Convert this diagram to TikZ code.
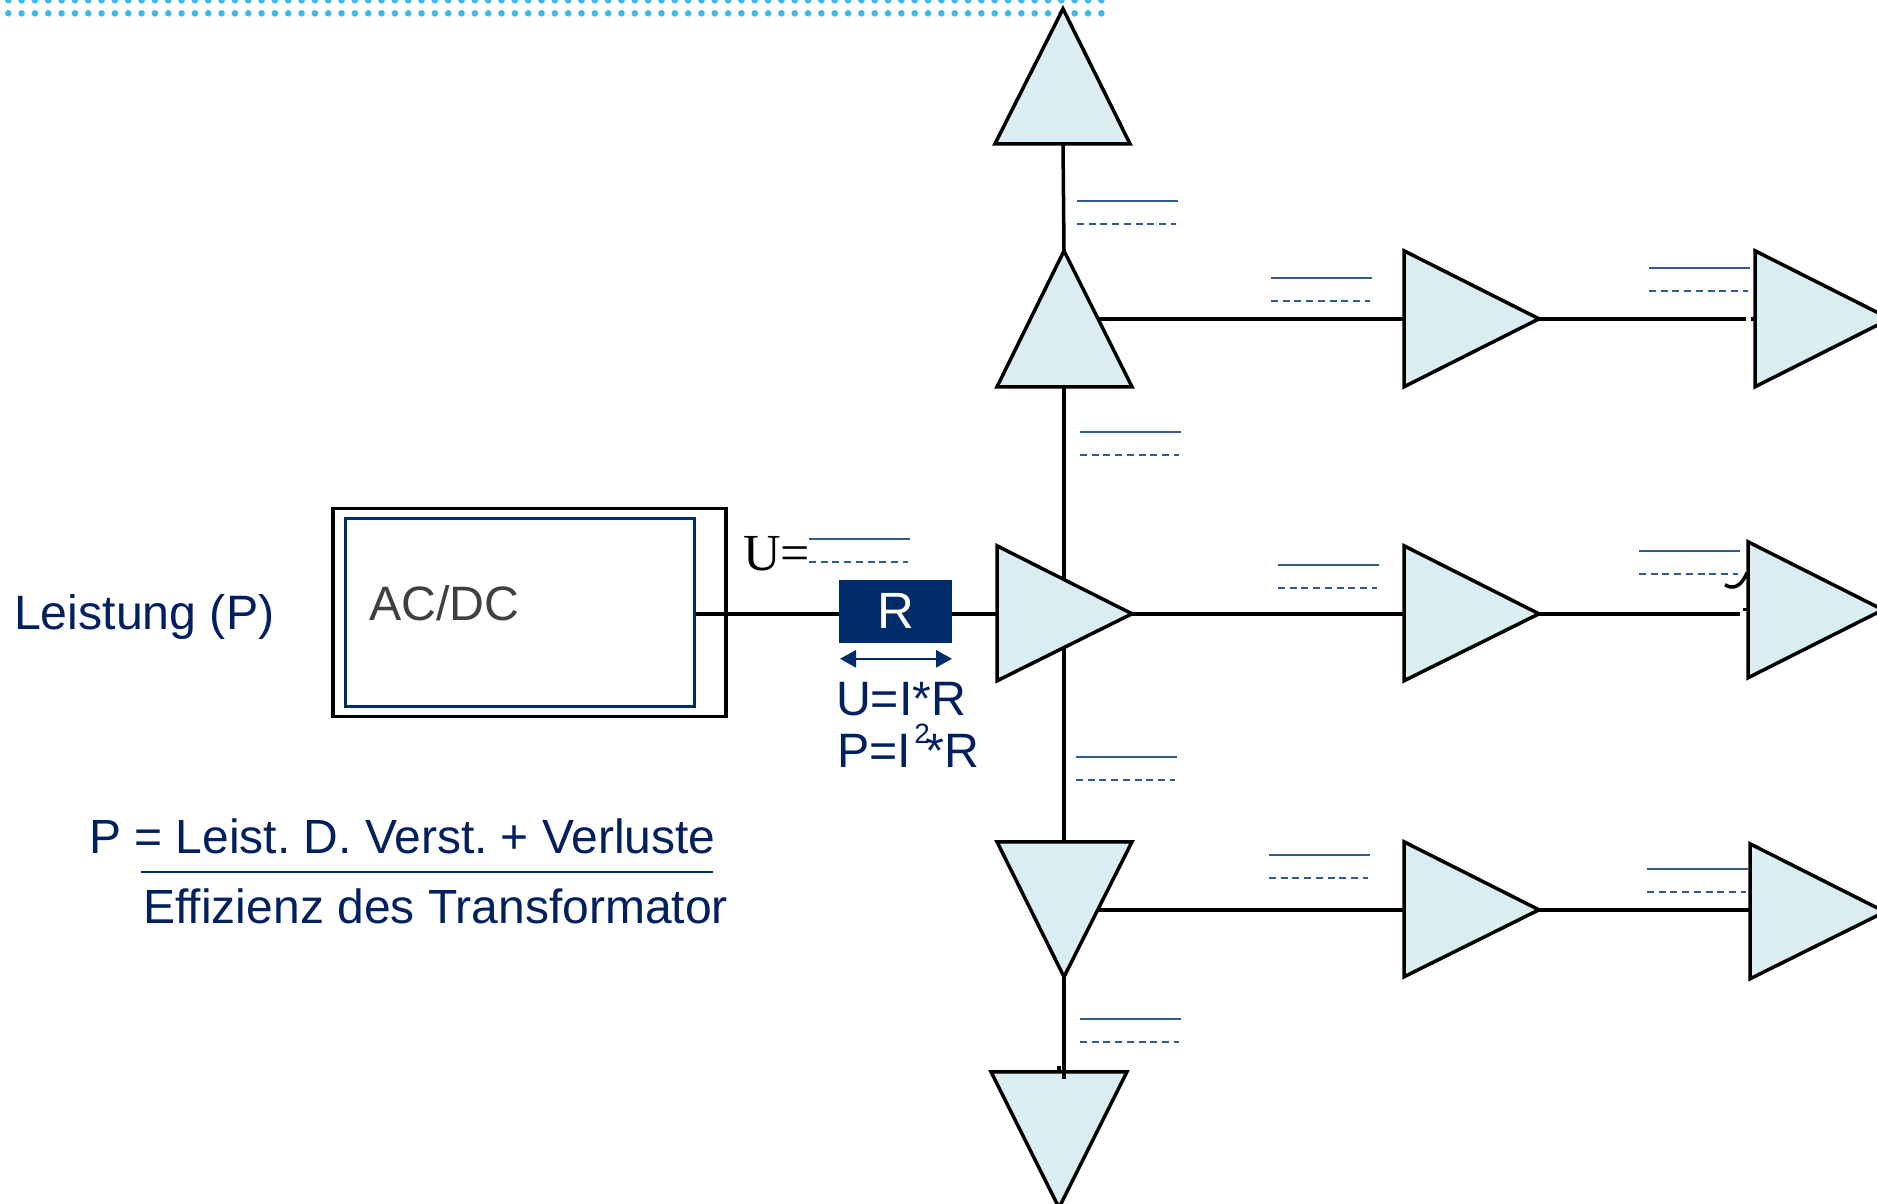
\documentclass[tikz,border=0pt]{standalone}
\usepackage{fontspec}
\setmainfont{Liberation Sans}
\newfontfamily\timesf{Liberation Serif}
\usetikzlibrary{arrows.meta,calc}
\definecolor{navy}{HTML}{002C6C}
\definecolor{txtnavy}{HTML}{00205F}
\definecolor{rulec}{HTML}{2F5A94}
\definecolor{trifill}{HTML}{DAEDF3}
\definecolor{dotc}{HTML}{3FB8EC}
\definecolor{graytxt}{HTML}{404040}
\newcommand{\fs}[1]{\fontsize{#1}{#1}\selectfont}
\newcommand{\amp}[4]{\draw[amptri] #2 coordinate (#1a) -- #3 coordinate (#1b) -- #4 coordinate (#1t) -- cycle;}
\newcommand{\rulepair}[3]{%
  \draw[rulesolid] (#1,#2) -- ++(100.5,0);
  \draw[ruledash] (#1,#3) -- ++(99,0);}
\tikzset{
  x=1pt,y=-1pt,
  amptri/.style={draw=black,fill=trifill,line width=3.5pt,line join=miter},
  wire/.style={draw=black,line width=3.5pt},
  rulesolid/.style={draw=rulec,line width=1.6pt},
  ruledash/.style={draw=rulec,line width=1.6pt,dash pattern=on 7pt off 4.7pt},
  bluetext/.style={text=txtnavy,font=\fs{48.3},anchor=base west,inner sep=0pt,outer sep=0pt},
  formula/.style={bluetext,font=\fs{48}},
  dotrow/.style={draw=dotc,line width=6.6pt,line cap=round,dash pattern=on 0pt off 13.33pt},
}
\begin{document}
\frenchspacing
\begin{tikzpicture}
\useasboundingbox (0,-0.8) rectangle (1877,1203.2);
\clip (0,-0.8) rectangle (1877,1203.2);

% dotted band
\coordinate (d1a) at (8.3,-0.5); \coordinate (d1b) at (1105,-0.5);
\coordinate (d2a) at (8.3,12.5); \coordinate (d2b) at (1105,12.5);
\draw[dotrow] (d1a) -- (d1b);
\draw[dotrow] (d2a) -- (d2b);

% wire end points
\coordinate (upA) at (1063,143); \coordinate (upBt) at (1064,250);
\coordinate (upBb) at (1064,386);
\coordinate (cc) at (1064,613);
\coordinate (dnAt) at (1064,841); \coordinate (dnAb) at (1064,976);
\coordinate (dnBe) at (1064,1078);
\coordinate (j1) at (1095,318); \coordinate (j2) at (1095,909);
\coordinate (r1a) at (1404,318); \coordinate (r2a) at (1404,613); \coordinate (r3a) at (1404,909);
\coordinate (r1t) at (1539,318); \coordinate (r2t) at (1539,613); \coordinate (r3t) at (1539,909);
\coordinate (e1) at (1746,318); \coordinate (e2) at (1740,613); \coordinate (e3) at (1750,909);

% boxes
\node[draw=black,line width=3.3pt,minimum width=393pt,minimum height=208pt,inner sep=0pt] (outer) at (529.5,612) {};
\node[draw=navy,line width=3pt,minimum width=349pt,minimum height=188pt,inner sep=0pt] (inner) at (519.5,612) {};
\node[fill=navy,draw=navy,minimum width=112pt,minimum height=62pt,inner sep=0pt,text=white,font=\fs{51}] (R) at (895.5,610.5) {R};

% wires
\draw[wire] (inner.east |- cc) -- (R.west |- cc);
\draw[wire] (R.east |- cc) -- (cc);
\draw[wire] (upA) -- (upBt);
\draw[wire] (upBb) -- (dnAt);
\draw[wire] (dnAb) -- (dnBe);
\draw[wire] (cc) -- (r2a);
\draw[wire] (j1) -- (r1a);
\draw[wire] (j2) -- (r3a);
\draw[wire] (r1t) -- (e1);
\draw[wire] (r2t) -- (e2);
\draw[wire] (r3t) -- (e3);

% triangles
\amp{a}{(995,143)}{(1130,143)}{(1063,8)}
\amp{b}{(997,386)}{(1132,386)}{(1064,250)}
\amp{c}{(997,545)}{(997,680)}{(1132,613)}
\amp{d}{(997,841)}{(1132,841)}{(1064,976)}
\amp{e}{(991,1071)}{(1127,1071)}{(1059,1207)}
\amp{f}{(1404,250)}{(1404,386)}{(1539,318)}
\amp{g}{(1404,545)}{(1404,680)}{(1539,613)}
\amp{h}{(1404,841)}{(1404,976)}{(1539,909)}
\amp{i}{(1755,250)}{(1755,386)}{(1890,318)}
\amp{k}{(1748,541)}{(1748,677)}{(1883,609)}
\amp{l}{(1750,843)}{(1750,978)}{(1885,911)}

% overdrawn ends and remnants
\coordinate (v3) at (1064,1078); \coordinate (v2) at (1064,1060);
\draw[wire] (v2) -- (v3);
\coordinate (t3a) at (1059,1065); \coordinate (t3b) at (1059,1071);
\draw[wire] (t3a) -- (t3b);
\coordinate (t2a) at (1743,608.5); \coordinate (t2b) at (1748,608.5);
\draw[wire] (t2a) -- (t2b);
\coordinate (t1a) at (1751,318); \coordinate (t1b) at (1755,318);
\draw[wire] (t1a) -- (t1b);
\coordinate (c1) at (1725,584); \coordinate (c2) at (1747,572);
\draw[wire] (c1) .. controls (1733,589) and (1741,586) .. (c2);

% value rules
\rulepair{1077}{200}{223}
\rulepair{1271}{277}{300}
\rulepair{1649}{267}{290}
\rulepair{1080}{431}{454}
\rulepair{809}{538}{561}
\rulepair{1278}{564}{587}
\rulepair{1639}{550}{573}
\rulepair{1076}{756}{779}
\rulepair{1269}{854}{877}
\rulepair{1647}{868}{891}
\rulepair{1080}{1018}{1041}

% resistor dimension arrow
\coordinate (ra) at (840,658); \coordinate (rb) at (952,658);
\draw[navy,line width=2.6pt,{Triangle[length=16pt,width=17pt]}-{Triangle[length=16pt,width=17pt]}] (ra) -- (rb);

% texts
\node[bluetext] (leistung) at (14,628.5) {Leistung (P)};
\node[text=graytxt,font=\fs{48.3},anchor=base west,inner sep=0pt] (acdc) at (369,620) {AC/DC};
\node[text=black,font=\timesf\fs{52},anchor=base west,inner sep=0pt] (ueq) at (743,570) {U=};
\node[bluetext] (uir) at (836,715) {U=I*R};
\node[bluetext] (pir) at (837,767) {P=I\kern3.5pt\raisebox{24pt}[0pt][0pt]{\fs{28}2}\kern-4pt*R};
\node[formula,font={\fs{48}\spaceskip=13.2pt}] (num) at (89.5,853) {P = Leist. D. Verst. + Verluste};
\node[formula] (den) at (143.5,923) {Effizienz des Transformator};
\coordinate (fa) at (141,871); \coordinate (fb) at (713,871);
\draw[rulesolid,draw=navy] (fa) -- (fb);
\end{tikzpicture}
\end{document}
